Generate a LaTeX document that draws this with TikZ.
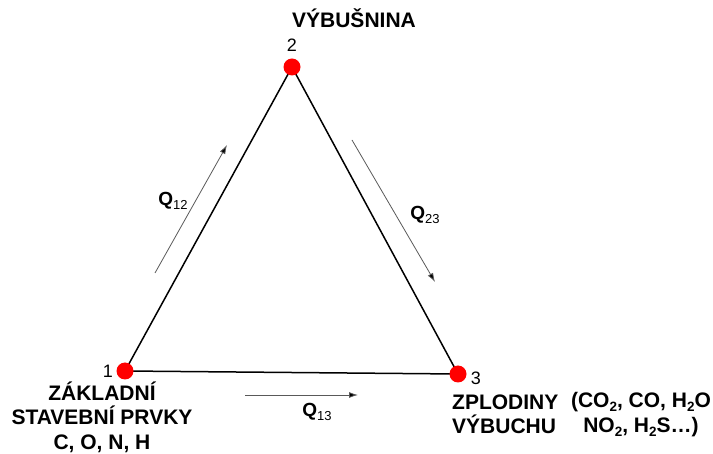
\documentclass[tikz,border=0pt]{standalone}
\usepackage{fontspec}
\setmainfont{Liberation Sans}
\usetikzlibrary{arrows.meta}
\newcommand{\chsub}[1]{\raisebox{-0.35ex}{\fontsize{13.5}{13.5}\selectfont #1}}
\newcommand{\qsub}[1]{\raisebox{-0.45ex}{\fontsize{13}{13}\selectfont\mdseries #1}}
\begin{document}
\begin{tikzpicture}[x=1pt,y=-1pt,
  tri/.style={line width=1.5pt,black},
  dot/.style={circle,fill=red,minimum size=17pt,inner sep=0pt},
  flow/.style={line width=0.8pt,draw=black!65,-{Latex[length=9pt,width=6pt,fill=black]}},
  lbl/.style={font=\fontsize{21}{24.5}\selectfont\bfseries,inner sep=0pt},
  num/.style={font=\fontsize{18}{20}\selectfont,inner sep=0pt},
  qlbl/.style={font=\fontsize{19}{20}\selectfont\bfseries,inner sep=0pt}]
\useasboundingbox (0,0) rectangle (713,454);
\coordinate (c1) at (125,371);
\coordinate (c2) at (292,67);
\coordinate (c3) at (458,374);
\draw[tri,line join=round] (c1) -- (c2) -- (c3) -- cycle;
\node[dot] (v1) at (c1) {};
\node[dot] (v2) at (c2) {};
\node[dot] (v3) at (c3) {};
% numbers
\node[num] (n1) at (108,371) {1};
\node[num] (n2) at (292,45) {2};
\node[num] (n3) at (476,378) {3};
% flow arrows
\coordinate (a12s) at (155,273); \coordinate (a12e) at (227,145);
\coordinate (a23s) at (352,140); \coordinate (a23e) at (435,282);
\coordinate (a13s) at (245,395); \coordinate (a13e) at (358,395);
\draw[flow] (a12s) -- (a12e);
\draw[flow] (a23s) -- (a23e);
\draw[flow] (a13s) -- (a13e);
\node[qlbl] (q12) at (173,201) {Q\qsub{12}};
\node[qlbl] (q23) at (425,215) {Q\qsub{23}};
\node[qlbl] (q13) at (317,412) {Q\qsub{13}};
% texts
\node[lbl] (top) at (354,18) {VÝBUŠNINA};
\node[lbl,align=center] (left) at (102,417) {ZÁKLADNÍ\\STAVEBNÍ PRVKY\\C, O, N, H};
\node[lbl,align=left,anchor=west] (right) at (452,414.5) {ZPLODINY\\VÝBUCHU};
\node[lbl,align=center] (chem) at (641,414.5) {(CO\chsub{2}, CO, H\chsub{2}O\\NO\chsub{2}, H\chsub{2}S…)};
\end{tikzpicture}
\end{document}
